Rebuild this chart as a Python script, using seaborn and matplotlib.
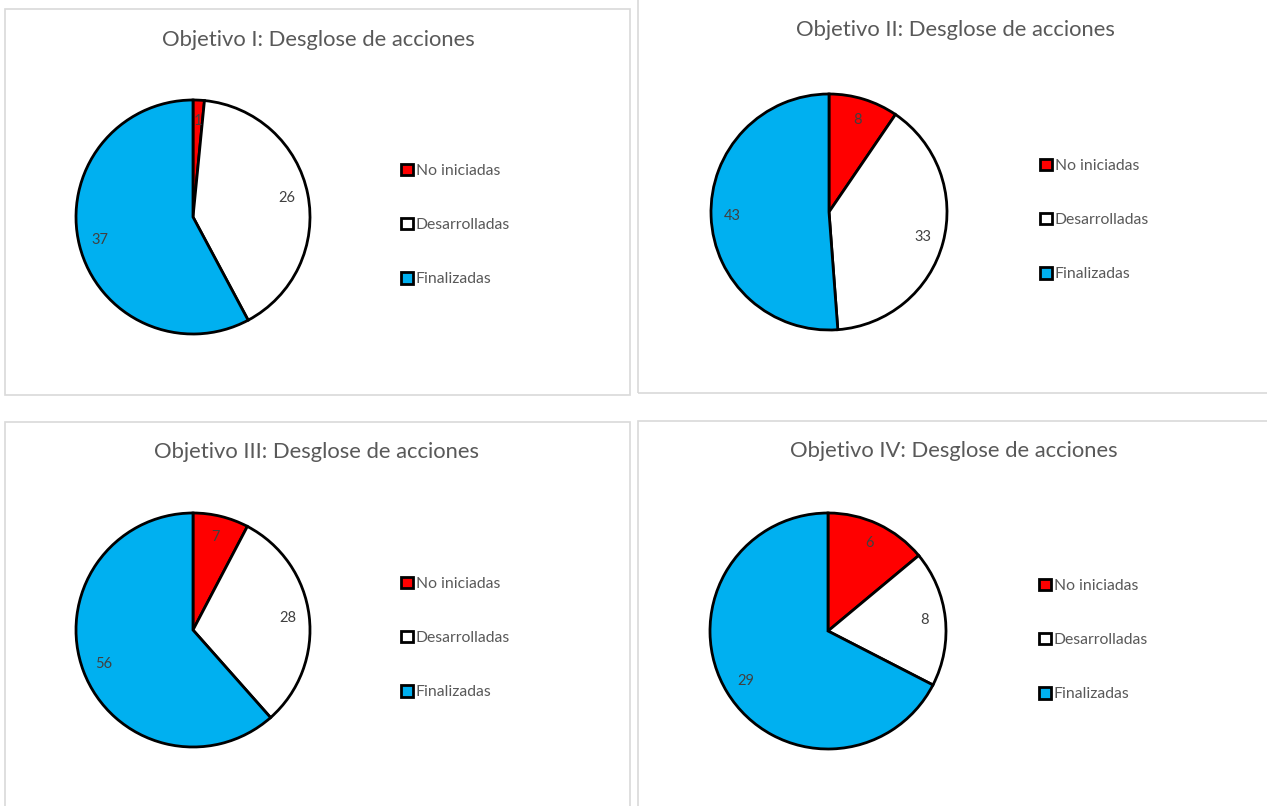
import matplotlib
matplotlib.use("Agg")
import matplotlib.pyplot as plt
import seaborn as sns
from matplotlib.patches import Rectangle

sns.set_theme(style="white")
plt.rcParams['font.family'] = ['Lato', 'DejaVu Sans']

categories = ["No iniciadas", "Desarrolladas", "Finalizadas"]
titles = ["Objetivo I: Desglose de acciones", "Objetivo II: Desglose de acciones",
          "Objetivo III: Desglose de acciones", "Objetivo IV: Desglose de acciones"]
obj1 = [1, 26, 37]
obj2 = [8, 33, 43]
obj3 = [7, 28, 56]
obj4 = [6, 8, 29]
series = [obj1, obj2, obj3, obj4]
colors = ["#FF0000", "#FFFFFF", "#00B0F0"]

W, H = 1267, 806
fig = plt.figure(figsize=(W / 100, H / 100), dpi=100)
fig.patch.set_facecolor("white")

layout = [
    dict(box=(5, 9, 630, 395), c=(193, 217), r=117, t=(318, 40), leg=(401, 225)),
    dict(box=(638, -5, 1280, 393), c=(829, 212), r=118, t=(955, 30), leg=(1040, 220)),
    dict(box=(5, 422, 630, 815), c=(193, 630), r=117, t=(317, 452), leg=(401, 638)),
    dict(box=(638, 421, 1280, 815), c=(828, 631), r=118, t=(954, 451), leg=(1039, 640)),
]

def fx(x):
    return x / W

def fy(y):
    return 1 - y / H

for vals, title, L in zip(series, titles, layout):
    x0, y0, x1, y1 = L["box"]
    fig.patches.append(Rectangle((fx(x0), fy(y1)), (x1 - x0) / W, (y1 - y0) / H,
                                 transform=fig.transFigure, facecolor="none",
                                 edgecolor="#D9D9D9", linewidth=1.2, zorder=-5))
    cx, cy = L["c"]
    r = L["r"]
    ax = fig.add_axes([fx(cx - r), fy(cy + r), 2 * r / W, 2 * r / H])
    ax.set_zorder(2)
    wedges, texts = ax.pie(vals, colors=colors, startangle=90, counterclock=False,
                           labels=[str(v) for v in vals], labeldistance=0.82,
                           wedgeprops=dict(edgecolor="black", linewidth=2, clip_on=False),
                           textprops=dict(color="#404040", fontsize=10.5))
    for t in texts:
        t.set_ha("center")
        t.set_va("center")
    ax.set_xlim(-1, 1)
    ax.set_ylim(-1, 1)
    ax.set_aspect("equal")
    ax.axis("off")
    fig.text(fx(L["t"][0]), fy(L["t"][1]), title, ha="center", va="center",
             fontsize=15.8, color="#595959")
    lx, ly = L["leg"]
    fig.legend(wedges, categories, loc="center left", bbox_to_anchor=(fx(lx), fy(ly)),
               frameon=False, fontsize=11.3, labelcolor="#595959",
               handlelength=0.75, handleheight=0.75, handletextpad=0.2,
               labelspacing=2.55, borderpad=0, borderaxespad=0)

fig.savefig("out.png", dpi=100, facecolor="white")
